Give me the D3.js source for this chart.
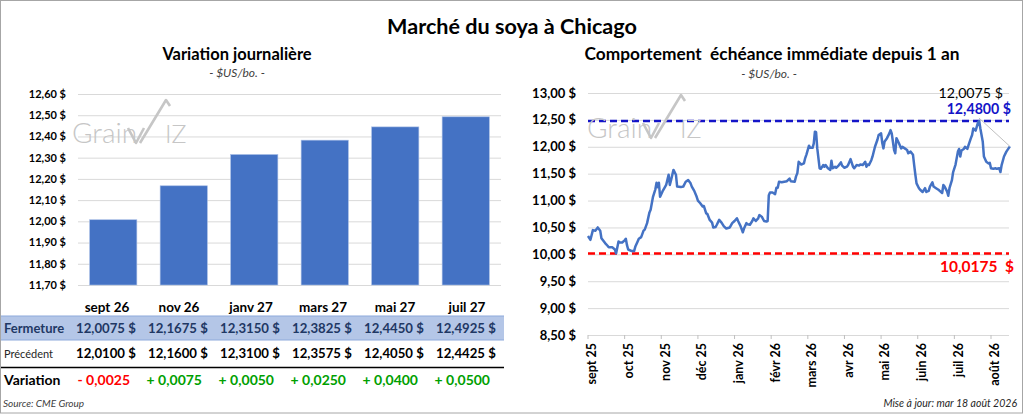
<!DOCTYPE html>
<html><head><meta charset="utf-8">
<script src="https://cdn.jsdelivr.net/npm/d3@7"></script>
<style>body{margin:0;background:#fff}svg{display:block;font-family:Lato,"Noto Sans",sans-serif}</style>
</head><body><svg id="c" width="1024" height="414"></svg>
<script>
// ---------- DATA ----------
const mainTitle = "Marché du soya à Chicago";
const leftTitle = "Variation journalière";
const rightTitle = "Comportement  échéance immédiate depuis 1 an";
const unitLabel = "- $US/bo. -";
const barCategories = ["sept 26","nov 26","janv 27","mars 27","mai 27","juil 27"];
const fermeture = [12.0075, 12.1675, 12.3150, 12.3825, 12.4450, 12.4925];
const precedent = [12.0100, 12.1600, 12.3100, 12.3575, 12.4050, 12.4425];
const leftTicks = [11.7, 11.8, 11.9, 12.0, 12.1, 12.2, 12.3, 12.4, 12.5, 12.6];
const rightTicks = [8.5, 9.0, 9.5, 10.0, 10.5, 11.0, 11.5, 12.0, 12.5, 13.0];
const xTickLabels = ["sept 25","oct 25","nov 25","déc 25","janv 26","févr 26","mars 26","avr 26","mai 26","juin 26","juil 26","août 26"];
const yearHigh = 12.48;
const yearLow = 10.0175;
const sourceText = "Source: CME Group";
const updateText = "Mise à jour: mar 18 août 2026";
const lineData = [
["2025-09-01",10.34],["2025-09-03",10.27],["2025-09-05",10.45],["2025-09-07",10.44],["2025-09-09",10.50],
["2025-09-11",10.44],["2025-09-12",10.30],["2025-09-15",10.21],["2025-09-17",10.16],["2025-09-18",10.13],
["2025-09-21",10.13],["2025-09-23",10.09],["2025-09-24",10.0175],["2025-09-26",10.24],["2025-09-27",10.22],
["2025-09-29",10.22],["2025-10-01",10.26],["2025-10-02",10.29],["2025-10-03",10.17],["2025-10-04",10.09],
["2025-10-07",10.06],["2025-10-09",10.06],["2025-10-10",10.14],["2025-10-12",10.24],["2025-10-13",10.29],
["2025-10-15",10.32],["2025-10-17",10.44],["2025-10-18",10.46],["2025-10-20",10.58],["2025-10-22",10.78],
["2025-10-23",10.83],["2025-10-25",11.07],["2025-10-27",11.21],["2025-10-28",11.33],["2025-10-29",11.25],
["2025-10-30",11.33],["2025-10-31",11.07],["2025-11-02",11.17],["2025-11-04",11.25],["2025-11-05",11.29],
["2025-11-07",11.48],["2025-11-08",11.29],["2025-11-09",11.38],["2025-11-11",11.57],["2025-11-13",11.48],
["2025-11-14",11.26],["2025-11-17",11.25],["2025-11-19",11.26],["2025-11-21",11.35],["2025-11-23",11.38],
["2025-11-25",11.32],["2025-11-26",11.26],["2025-11-28",11.18],["2025-11-30",11.07],["2025-12-01",11.00],
["2025-12-03",10.95],["2025-12-05",10.89],["2025-12-06",10.90],["2025-12-08",10.76],["2025-12-09",10.75],
["2025-12-11",10.64],["2025-12-13",10.59],["2025-12-14",10.50],["2025-12-16",10.51],["2025-12-17",10.55],
["2025-12-19",10.64],["2025-12-21",10.59],["2025-12-23",10.52],["2025-12-25",10.48],["2025-12-28",10.50],
["2025-12-30",10.58],["2026-01-01",10.62],["2026-01-03",10.67],["2026-01-04",10.62],["2026-01-06",10.53],
["2026-01-08",10.41],["2026-01-09",10.48],["2026-01-11",10.58],["2026-01-12",10.56],["2026-01-14",10.55],
["2026-01-16",10.62],["2026-01-17",10.67],["2026-01-19",10.62],["2026-01-21",10.67],["2026-01-22",10.73],
["2026-01-24",10.70],["2026-01-26",10.62],["2026-01-28",10.61],["2026-01-29",10.62],["2026-01-30",11.10],
["2026-01-31",11.15],["2026-02-02",11.15],["2026-02-04",11.12],["2026-02-05",11.24],["2026-02-06",11.24],
["2026-02-07",11.35],["2026-02-09",11.34],["2026-02-11",11.35],["2026-02-13",11.36],["2026-02-15",11.41],
["2026-02-16",11.36],["2026-02-19",11.35],["2026-02-20",11.45],["2026-02-21",11.51],["2026-02-22",11.72],
["2026-02-24",11.67],["2026-02-26",11.69],["2026-02-27",11.79],["2026-02-28",11.86],["2026-03-02",12.02],
["2026-03-03",11.98],["2026-03-05",11.98],["2026-03-06",12.06],["2026-03-07",12.28],["2026-03-08",12.27],
["2026-03-09",11.97],["2026-03-11",11.60],["2026-03-12",11.59],["2026-03-14",11.66],["2026-03-15",11.63],
["2026-03-16",11.66],["2026-03-18",11.60],["2026-03-20",11.57],["2026-03-21",11.74],["2026-03-22",11.60],
["2026-03-24",11.63],["2026-03-25",11.61],["2026-03-27",11.65],["2026-03-29",11.71],["2026-03-30",11.65],
["2026-04-01",11.61],["2026-04-03",11.63],["2026-04-04",11.66],["2026-04-06",11.77],["2026-04-08",11.63],
["2026-04-09",11.60],["2026-04-11",11.66],["2026-04-13",11.65],["2026-04-14",11.67],["2026-04-16",11.66],
["2026-04-18",11.72],["2026-04-19",11.63],["2026-04-20",11.67],["2026-04-21",11.66],["2026-04-23",11.75],
["2026-04-24",11.82],["2026-04-26",12.00],["2026-04-28",12.13],["2026-04-29",12.22],["2026-05-01",12.25],
["2026-05-02",12.07],["2026-05-03",11.97],["2026-05-04",12.10],["2026-05-06",12.16],["2026-05-08",12.25],
["2026-05-09",12.31],["2026-05-10",12.25],["2026-05-12",11.94],["2026-05-13",11.88],["2026-05-14",12.16],
["2026-05-16",12.07],["2026-05-18",11.97],["2026-05-19",12.00],["2026-05-21",11.97],["2026-05-23",11.94],
["2026-05-24",11.88],["2026-05-26",11.91],["2026-05-28",11.85],["2026-05-29",11.66],["2026-05-30",11.48],
["2026-05-31",11.32],["2026-06-02",11.23],["2026-06-03",11.20],["2026-06-05",11.16],["2026-06-07",11.23],
["2026-06-08",11.16],["2026-06-10",11.18],["2026-06-11",11.26],["2026-06-13",11.34],["2026-06-14",11.26],
["2026-06-16",11.23],["2026-06-18",11.20],["2026-06-19",11.18],["2026-06-21",11.14],["2026-06-22",11.29],
["2026-06-23",11.26],["2026-06-25",11.17],["2026-06-26",11.09],["2026-06-27",11.23],["2026-06-29",11.38],
["2026-06-30",11.53],["2026-07-02",11.67],["2026-07-04",11.91],["2026-07-05",11.96],["2026-07-06",11.82],
["2026-07-07",11.93],["2026-07-09",11.96],["2026-07-10",12.00],["2026-07-12",11.96],["2026-07-13",12.03],
["2026-07-15",12.16],["2026-07-16",12.22],["2026-07-17",12.34],["2026-07-19",12.30],["2026-07-21",12.45],
["2026-07-22",12.48],["2026-07-23",12.34],["2026-07-24",12.22],["2026-07-25",12.10],["2026-07-26",11.82],
["2026-07-28",11.72],["2026-07-30",11.69],["2026-07-31",11.70],["2026-08-01",11.60],["2026-08-03",11.59],
["2026-08-05",11.60],["2026-08-06",11.59],["2026-08-08",11.60],["2026-08-09",11.53],["2026-08-10",11.66],
["2026-08-12",11.82],["2026-08-14",11.91],["2026-08-17",12.0075]
];

// ---------- HELPERS ----------
const svg = d3.select("#c");
const fr = (v, d) => d3.format("." + d + "f")(v).replace(".", ",");
const parse = d3.timeParse("%Y-%m-%d");
const series = lineData.map(d => ({date: parse(d[0]), v: d[1]}));
const BLUE = "#4472C4", GRID = "#D9D9D9", LOGO = "#C6C6C6";

// outer frame
svg.append("rect").attr("x",0.5).attr("y",0.5).attr("width",1022).attr("height",412.5)
  .attr("fill","none").attr("stroke","#A6A6A6").attr("stroke-width",1);

// titles
svg.append("text").attr("x",512).attr("y",34).attr("text-anchor","middle")
  .attr("font-size",21.6).attr("font-weight","bold").attr("fill","#000").text(mainTitle);
svg.append("text").attr("x",237).attr("y",60).attr("text-anchor","middle")
  .attr("font-size",16.5).attr("font-weight","bold").attr("fill","#000").text(leftTitle);
svg.append("text").attr("x",237).attr("y",77).attr("text-anchor","middle")
  .attr("font-size",12).attr("font-style","italic").attr("fill","#404040").text(unitLabel);
svg.append("text").attr("x",772).attr("y",60).attr("text-anchor","middle")
  .attr("font-size",17.3).attr("font-weight","bold").attr("fill","#000").attr("xml:space","preserve").text(rightTitle);
svg.append("text").attr("x",769).attr("y",78).attr("text-anchor","middle")
  .attr("font-size",12).attr("font-style","italic").attr("fill","#404040").text(unitLabel);

// watermark logo
function logo(x, y) {
  const g = svg.append("g").attr("transform", `translate(${x},${y})`).attr("fill",LOGO);
  g.append("text").attr("x",0).attr("y",0).attr("font-size",28).attr("font-weight",300).text("Grain");
  g.append("path").attr("d","M56,-15 L64,0 L72,-15 M68,0 L94,-43 L98,-37")
    .attr("fill","none").attr("stroke",LOGO).attr("stroke-width",2.6).attr("stroke-linejoin","round");
  g.append("text").attr("x",93).attr("y",0).attr("font-size",25).attr("font-weight",300).text("IZ");
}

// ---------- LEFT BAR CHART ----------
const yL = d3.scaleLinear().domain([11.7, 12.6]).range([285, 94]);
const xL = d3.scaleBand().domain(barCategories).range([78, 501]).paddingInner(0.33).paddingOuter(0.165);
const gL = svg.append("g");
gL.selectAll(".gl").data(leftTicks).join("line")
  .attr("x1",78).attr("x2",501).attr("y1",d=>yL(d)+0.5).attr("y2",d=>yL(d)+0.5)
  .attr("stroke",GRID).attr("stroke-width",1);
gL.selectAll(".yl").data(leftTicks).join("text")
  .attr("x",66).attr("y",d=>yL(d)).attr("dy","0.35em").attr("text-anchor","end")
  .attr("font-size",11).attr("font-weight","bold").attr("fill","#000")
  .text(d => fr(d,2) + " $");
logo(72, 143);
gL.selectAll(".bar").data(fermeture).join("rect")
  .attr("x",(d,i)=>xL(barCategories[i])).attr("y",d=>yL(d))
  .attr("width",xL.bandwidth()).attr("height",d=>yL(11.7)-yL(d))
  .attr("fill",BLUE).attr("stroke","#A9BEE6").attr("stroke-width",0.6);

// ---------- TABLE ----------
const xT = d3.scaleBand().domain(barCategories).range([71, 503]);
const colR = c => xT(c) + xT.bandwidth();
svg.append("g").selectAll("text").data(barCategories).join("text")
  .attr("x",d=>xT(d)+xT.bandwidth()/2).attr("y",312).attr("text-anchor","middle")
  .attr("font-size",13.5).attr("font-weight","bold").attr("fill","#000").text(d=>d);
svg.append("rect").attr("x",1).attr("y",316).attr("width",503).attr("height",24).attr("fill","#B4C6E7");
svg.append("line").attr("x1",1).attr("x2",504).attr("y1",316).attr("y2",316).attr("stroke","#8EA9DB").attr("stroke-width",1.2);
svg.append("line").attr("x1",1).attr("x2",504).attr("y1",340).attr("y2",340).attr("stroke","#8EA9DB").attr("stroke-width",1.2);
svg.append("line").attr("x1",1).attr("x2",504).attr("y1",367.5).attr("y2",367.5).attr("stroke","#000").attr("stroke-width",1.5);

const NAVY = "#1F3864";
svg.append("text").attr("x",4).attr("y",333).attr("font-size",13).attr("font-weight","bold").attr("fill",NAVY).text("Fermeture");
svg.append("text").attr("x",4).attr("y",358).attr("font-size",11).attr("fill","#262626").text("Précédent");
svg.append("text").attr("x",4).attr("y",385).attr("font-size",14).attr("font-weight","bold").attr("fill","#000").text("Variation");

function valueRow(vals, y, color) {
  const g = svg.append("g").attr("font-size",13.2).attr("font-weight","bold").attr("fill",color);
  g.selectAll(".n").data(vals).join("text")
    .attr("x",(d,i)=>colR(barCategories[i]) - 18).attr("y",y).attr("text-anchor","end").text(d=>fr(d,4));
  g.selectAll(".s").data(vals).join("text")
    .attr("x",(d,i)=>colR(barCategories[i]) - 7).attr("y",y).attr("text-anchor","end").text("$");
}
valueRow(fermeture, 333, NAVY);
valueRow(precedent, 358, "#000");
const variation = fermeture.map((f,i) => +(f - precedent[i]).toFixed(4));
svg.append("g").selectAll("text").data(variation).join("text")
  .attr("x",(d,i)=>colR(barCategories[i]) - 13).attr("y",385).attr("text-anchor","end")
  .attr("font-size",14).attr("font-weight","bold")
  .attr("fill",d=> d < 0 ? "#FF0000" : "#00A000")
  .text(d => (d < 0 ? "- " : "+ ") + fr(Math.abs(d),4));
svg.append("text").attr("x",3).attr("y",407).attr("font-size",10).attr("font-style","italic").attr("fill","#404040").text(sourceText);

// ---------- RIGHT LINE CHART ----------
const monthStarts = d3.timeMonth.range(new Date(2025,8,1), new Date(2026,7,2));
const lastDate = series[series.length-1].date;
const monthStep = (991 - 588) / 11;
const xR = d3.scaleTime()
  .domain([...monthStarts, lastDate])
  .range([...monthStarts.map((d,i)=>588 + i*monthStep), 991 + monthStep*(d3.timeDay.count(monthStarts[11], lastDate))/31]);
const yR = d3.scaleLinear().domain([8.5, 13]).range([335, 93]);
const gR = svg.append("g");
const xEnd = 1009;
gR.selectAll(".gr").data(rightTicks).join("line")
  .attr("x1",588).attr("x2",xEnd).attr("y1",d=>yR(d)+0.5).attr("y2",d=>yR(d)+0.5)
  .attr("stroke",GRID).attr("stroke-width",1);
gR.selectAll(".yr").data(rightTicks).join("text")
  .attr("x",576).attr("y",d=>yR(d)).attr("dy","0.35em").attr("text-anchor","end")
  .attr("font-size",13).attr("font-weight","bold").attr("fill","#000")
  .text(d => fr(d,2) + " $");
gR.selectAll(".tk").data(monthStarts).join("line")
  .attr("x1",d=>xR(d)).attr("x2",d=>xR(d)).attr("y1",yR(8.5)).attr("y2",yR(8.5)+4)
  .attr("stroke","#BFBFBF").attr("stroke-width",1);
gR.selectAll(".xl").data(monthStarts).join("text")
  .attr("transform",d=>`translate(${xR(d)+4},${yR(8.5)+8}) rotate(-90)`)
  .attr("dy","0.35em").attr("text-anchor","end")
  .attr("font-size",12.5).attr("font-weight","bold").attr("fill","#000")
  .text((d,i)=>xTickLabels[i]);
logo(587, 138);

// reference lines
gR.append("line").attr("x1",588).attr("x2",xEnd).attr("y1",yR(yearHigh)).attr("y2",yR(yearHigh))
  .attr("stroke","#1414C8").attr("stroke-width",2.5).attr("stroke-dasharray","7,4");
gR.append("line").attr("x1",588).attr("x2",xEnd).attr("y1",yR(yearLow)).attr("y2",yR(yearLow))
  .attr("stroke","#FF0000").attr("stroke-width",2.5).attr("stroke-dasharray","7,4");

// price line
gR.append("path").datum(series)
  .attr("d", d3.line().x(d=>xR(d.date)).y(d=>yR(d.v)))
  .attr("fill","none").attr("stroke",BLUE).attr("stroke-width",2.5).attr("stroke-linejoin","round");

// leader line + labels
const last = series[series.length-1];
gR.append("line").attr("x1",xR(last.date)-31).attr("y1",yR(yearHigh)-3)
  .attr("x2",xR(last.date)).attr("y2",yR(last.v)).attr("stroke","#BFBFBF").attr("stroke-width",1);
gR.append("text").attr("x",xR(last.date)-7).attr("y",yR(yearHigh)-22.5).attr("text-anchor","end")
  .attr("font-size",14.2).attr("fill","#000").text(fr(last.v,4) + " $");
gR.append("text").attr("x",xEnd+2).attr("y",yR(yearHigh)-6.5).attr("text-anchor","end")
  .attr("font-size",14.2).attr("font-weight","bold").attr("fill","#1414C8").text(fr(yearHigh,4) + " $");
gR.append("text").attr("x",xEnd+5).attr("y",yR(yearLow)+19).attr("text-anchor","end")
  .attr("font-size",15.5).attr("font-weight","bold").attr("fill","#FF0000").attr("xml:space","preserve").text(fr(yearLow,4) + "  $");

svg.append("text").attr("x",1017).attr("y",407).attr("text-anchor","end")
  .attr("font-size",10.5).attr("font-style","italic").attr("fill","#262626").text(updateText);
</script></body></html>
